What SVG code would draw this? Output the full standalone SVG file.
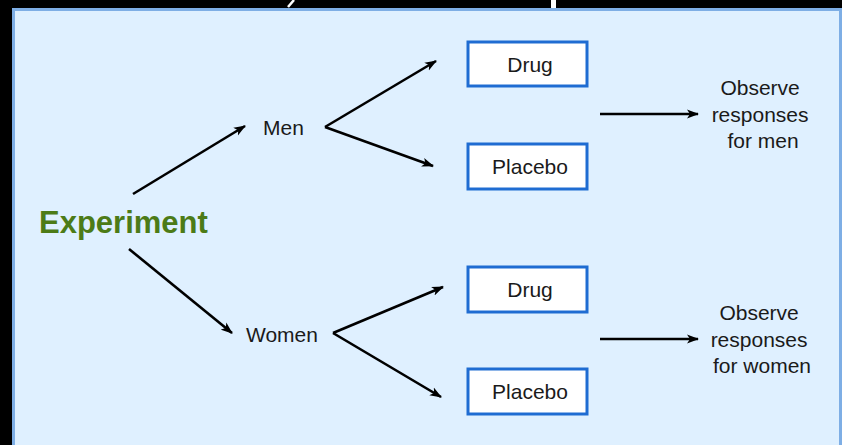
<svg xmlns="http://www.w3.org/2000/svg" width="842" height="445" viewBox="0 0 842 445">
  <defs>
    <style>
      .lbl { font-family: "Liberation Sans", Arial, sans-serif; font-size: 21px; fill: #1a1a1a; }
      .box { fill: #ffffff; stroke: #1f6cd2; stroke-width: 3; }
      .con { stroke: #000000; stroke-width: 2.6; fill: none; marker-end: url(#ah); }
    </style>
    <marker id="ah" markerUnits="userSpaceOnUse" viewBox="0 0 12 10" refX="11" refY="5" markerWidth="12" markerHeight="10" orient="auto">
      <path d="M0,0.5 L12,5 L0,9.5 L3,5 z" fill="#000000"/>
    </marker>
  </defs>
  <rect x="0" y="0" width="842" height="445" fill="#000000"/>
  <path d="M294,0 L288,7" stroke="#ffffff" stroke-width="2.5"/>
  <rect x="551" y="0" width="5" height="8" fill="#ffffff"/>
  <rect x="13.5" y="9.5" width="827" height="440" fill="#dff0ff" stroke="#7eaee5" stroke-width="3"/>

  <g id="connectors">
    <line class="con" x1="133" y1="194" x2="245" y2="126"/>
    <line class="con" x1="129" y1="249" x2="232" y2="333"/>
    <line class="con" x1="325" y1="127" x2="436" y2="61"/>
    <line class="con" x1="325" y1="127" x2="433" y2="166"/>
    <line class="con" x1="333" y1="333" x2="443" y2="287"/>
    <line class="con" x1="333" y1="333" x2="441" y2="397"/>
    <line class="con" x1="600" y1="114" x2="698" y2="114"/>
    <line class="con" x1="600" y1="339" x2="698" y2="339"/>
  </g>

  <g id="experiment">
    <text x="39" y="233" font-family="Liberation Sans, Arial, sans-serif" font-size="31" font-weight="bold" fill="#4c7b17">Experiment</text>
  </g>
  <g id="men">
    <text class="lbl" x="263" y="135">Men</text>
  </g>
  <g id="women">
    <text class="lbl" x="246" y="342">Women</text>
  </g>
  <g id="men-drug">
    <rect class="box" x="468" y="42" width="119" height="44"/>
    <text class="lbl" x="530" y="72" text-anchor="middle">Drug</text>
  </g>
  <g id="men-placebo">
    <rect class="box" x="468" y="144" width="119" height="45"/>
    <text class="lbl" x="530" y="174" text-anchor="middle">Placebo</text>
  </g>
  <g id="women-drug">
    <rect class="box" x="468" y="267" width="119" height="45"/>
    <text class="lbl" x="530" y="297" text-anchor="middle">Drug</text>
  </g>
  <g id="women-placebo">
    <rect class="box" x="468" y="369" width="119" height="45"/>
    <text class="lbl" x="530" y="399" text-anchor="middle">Placebo</text>
  </g>
  <g id="observe-men">
    <text class="lbl" text-anchor="middle">
      <tspan x="763" y="95">Observe</tspan>
      <tspan x="763" y="122">responses</tspan>
      <tspan x="763" y="148">for men</tspan>
    </text>
  </g>
  <g id="observe-women">
    <text class="lbl" text-anchor="middle">
      <tspan x="762" y="320">Observe</tspan>
      <tspan x="762" y="347">responses</tspan>
      <tspan x="762" y="373">for women</tspan>
    </text>
  </g>
</svg>
